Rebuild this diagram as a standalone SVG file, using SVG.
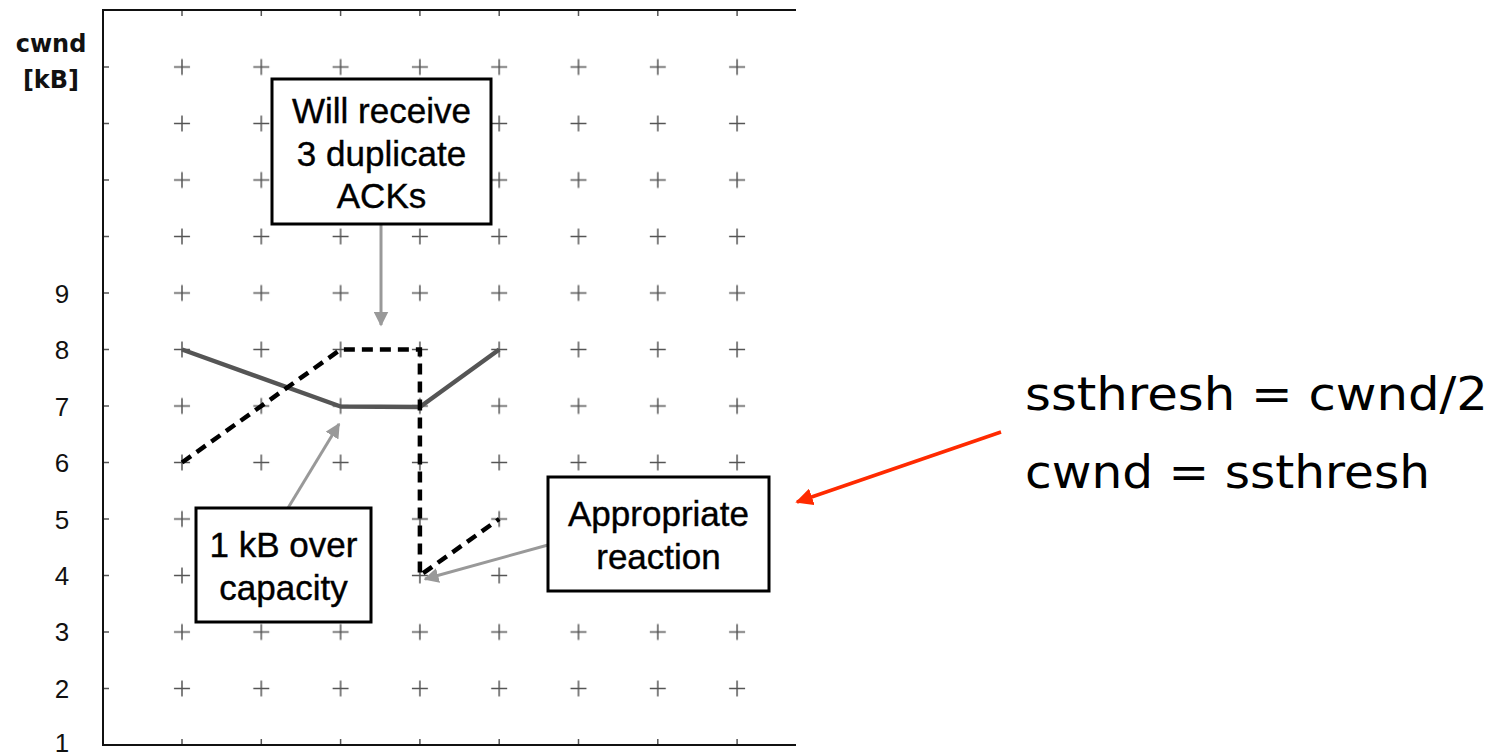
<svg xmlns="http://www.w3.org/2000/svg" width="1501" height="752" viewBox="0 0 1501 752">
<style>
.axis{stroke:#111;stroke-width:2;fill:none}
.tick{stroke:#555;stroke-width:1.5}
.ylab{font-family:"Liberation Sans",Arial,sans-serif;font-size:26px;fill:#111;text-anchor:middle}
.ttl{font-family:"DejaVu Sans",sans-serif;font-weight:bold;font-size:24px;fill:#111;text-anchor:middle}
.box{fill:#fff;stroke:#000;stroke-width:3}
.bt{font-family:"Liberation Sans",Arial,sans-serif;font-size:35px;fill:#000;text-anchor:middle;stroke:#000;stroke-width:0.4}
.solid{stroke:#555;stroke-width:4.5;fill:none;stroke-linejoin:round}
.dash{stroke:#000;stroke-width:4.5;fill:none;stroke-dasharray:11 7}
.ga{stroke:#999;stroke-width:3;fill:none;marker-end:url(#ga)}
.big{font-family:"DejaVu Sans",sans-serif;font-size:46px;fill:#000}
</style>
<defs>
<pattern id="cross" patternUnits="userSpaceOnUse" x="142.35" y="38.75" width="79.3" height="56.5">
<path d="M31.65,28.25H47.65M39.65,20.25V36.25" stroke="#555" stroke-width="1.5"/>
</pattern>
<marker id="ga" viewBox="0 0 10 10" refX="9" refY="5" markerWidth="5" markerHeight="5" orient="auto" markerUnits="strokeWidth">
<path d="M0,0L10,5L0,10z" fill="#999"/>
</marker>
<marker id="ra" viewBox="0 0 10 10" refX="9" refY="5" markerWidth="5" markerHeight="5" orient="auto" markerUnits="strokeWidth">
<path d="M0,0L10,5L0,10z" fill="#ff2a00"/>
</marker>
</defs>
<rect width="1501" height="752" fill="#fff"/>
<g id="grid">
<rect x="142" y="38" width="640" height="680" fill="url(#cross)"/>
<path class="tick" d="M182,10V16M261.3,10V16M340.6,10V16M419.9,10V16M499.2,10V16M578.5,10V16M657.8,10V16M737.1,10V16M182,745V739M261.3,745V739M340.6,745V739M419.9,745V739M499.2,745V739M578.5,745V739M657.8,745V739M737.1,745V739M103,67H109M103,123.5H109M103,180H109M103,236.5H109M103,293H109M103,349.5H109M103,406H109M103,462.5H109M103,519H109M103,575.5H109M103,632H109M103,688.5H109"/>
<path class="axis" d="M796,10H103V745H796"/>
</g>
<g id="ylabels">
<text class="ttl" x="51" y="52">cwnd</text>
<text class="ttl" x="51" y="88">[kB]</text>
<text class="ylab" x="62" y="303">9</text>
<text class="ylab" x="62" y="359">8</text>
<text class="ylab" x="62" y="416">7</text>
<text class="ylab" x="62" y="472">6</text>
<text class="ylab" x="62" y="529">5</text>
<text class="ylab" x="62" y="585">4</text>
<text class="ylab" x="62" y="641">3</text>
<text class="ylab" x="62" y="698">2</text>
<text class="ylab" x="62" y="752">1</text>
</g>
<g id="series">
<polyline class="solid" points="182,349.5 340.6,406.5 419.9,407 499.2,349.5"/>
<polyline class="dash" points="182,462.5 340.6,349.5 419.9,349.5 419.9,575.5 499.2,519"/>
</g>
<g id="connectors">
<line class="ga" x1="381" y1="224" x2="381" y2="325"/>
<line class="ga" x1="288" y1="508" x2="339" y2="424"/>
<line class="ga" x1="548" y1="545" x2="425" y2="579"/>
<line x1="1001" y1="432" x2="797" y2="502" stroke="#ff2a00" stroke-width="3.5" marker-end="url(#ra)"/>
</g>
<g id="box-acks">
<rect class="box" x="272" y="79" width="219" height="145"/>
<text class="bt" x="381.5" y="123">Will receive</text>
<text class="bt" x="381.5" y="166">3 duplicate</text>
<text class="bt" x="381.5" y="208">ACKs</text>
</g>
<g id="box-over">
<rect class="box" x="196" y="508" width="175" height="114"/>
<text class="bt" x="283.5" y="557">1 kB over</text>
<text class="bt" x="283.5" y="600">capacity</text>
</g>
<g id="box-reaction">
<rect class="box" x="548" y="477" width="221" height="114"/>
<text class="bt" x="658.5" y="526">Appropriate</text>
<text class="bt" x="658.5" y="569">reaction</text>
</g>
<g id="formula">
<text class="big" x="1025" y="410" textLength="463" lengthAdjust="spacingAndGlyphs">ssthresh = cwnd/2</text>
<text class="big" x="1025" y="488" textLength="405" lengthAdjust="spacingAndGlyphs">cwnd = ssthresh</text>
</g>
</svg>
